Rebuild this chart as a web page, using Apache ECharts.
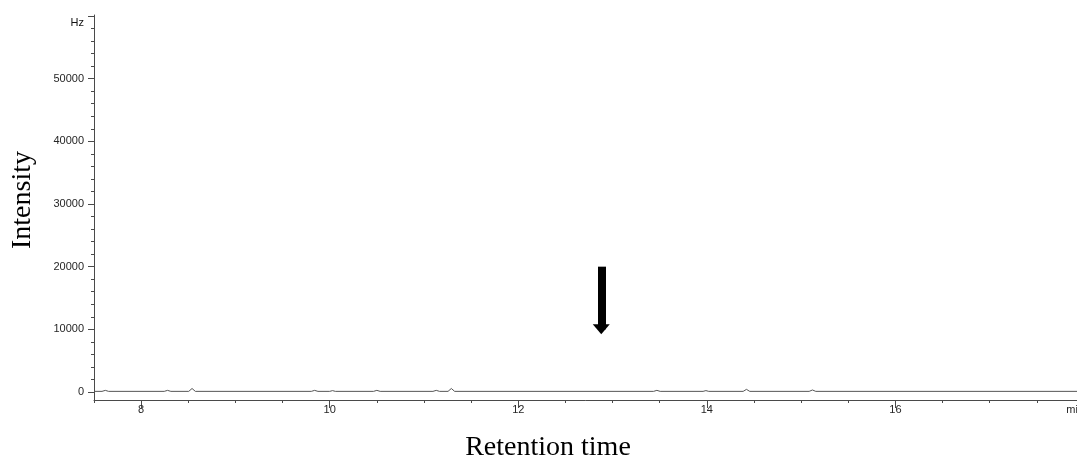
<!DOCTYPE html>
<html>
<head>
<meta charset="utf-8">
<script src="https://cdn.jsdelivr.net/npm/echarts@6/dist/echarts.min.js"></script>
<style>
html,body{margin:0;padding:0;background:#fff;}
#chart{width:1077px;height:459px;}
</style>
</head>
<body>
<div id="chart"></div>
<script>
// Retention time (min) and detector intensity (Hz)
const times = [7.50, 7.585, 7.62, 7.655, 8.245, 8.28, 8.315, 8.505, 8.54, 8.575,
  9.805, 9.84, 9.875, 10.00, 10.03, 10.06, 10.465, 10.50, 10.535, 11.095, 11.13, 11.165,
  11.255, 11.29, 11.325, 13.435, 13.47, 13.505, 13.96, 13.99, 14.02, 14.385, 14.42, 14.455,
  15.085, 15.12, 15.155, 18.00];
const intensity = [100, 100, 260, 100, 100, 260, 100, 100, 560, 100,
  100, 260, 100, 100, 220, 100, 100, 260, 100, 100, 260, 100,
  100, 560, 100, 100, 260, 100, 100, 220, 100, 100, 420, 100,
  100, 320, 100, 100];
// x-axis tick categories (every 0.5 min)
const xTicks = ['7.5','8','8.5','9','9.5','10','10.5','11','11.5','12','12.5','13','13.5','14','14.5','15','15.5','16','16.5','17','17.5','18'];
// y-axis range / ticks
const yMin = 0, yMax = 60000, yMajor = 10000, yMinor = 2000;
// arrow annotation (time, from intensity, to intensity)
const arrowTime = 12.88, arrowFrom = 20000, arrowTo = 10000;

const points = times.map((t, i) => [t, intensity[i]]);
const axisColor = '#4a4a4a';
const labelFont = { fontFamily: 'Liberation Sans, Arial, sans-serif', fontSize: 11, color: '#262626' };
const titleFont = '28px "Liberation Serif", "Times New Roman", serif';

const chart = echarts.init(document.getElementById('chart'), null, { renderer: 'canvas' });
chart.setOption({
  backgroundColor: '#fff',
  animation: false,
  grid: [
    { left: 94, right: -7, top: 16, bottom: 67, containLabel: false, outerBoundsMode: 'none' },
    { left: 94, right: -7, top: 15, bottom: 59, containLabel: false, outerBoundsMode: 'none' }
  ],
  xAxis: [
    { type: 'value', gridIndex: 0, min: 7.5, max: 18, show: false },
    { type: 'category', gridIndex: 1, data: xTicks, boundaryGap: false, position: 'bottom',
      axisLine: { show: true, onZero: false, lineStyle: { color: axisColor, width: 1 } },
      axisTick: { show: true, interval: 0, length: 3, lineStyle: { color: axisColor } },
      axisLabel: Object.assign({ interval: (i) => i === xTicks.length - 1, align: 'right', margin: 4,
        formatter: () => 'min' }, labelFont),
      splitLine: { show: false } },
    { type: 'category', gridIndex: 1, data: xTicks, boundaryGap: false, position: 'bottom',
      axisLine: { show: false, onZero: false },
      axisTick: { show: true, interval: (i) => i % 4 === 1 && i < xTicks.length - 1, length: 8, lineStyle: { color: axisColor } },
      axisLabel: Object.assign({ interval: (i) => i % 4 === 1 && i < xTicks.length - 1, margin: 4 }, labelFont),
      splitLine: { show: false } }
  ],
  yAxis: [
    { type: 'value', gridIndex: 0, min: yMin, max: yMax, interval: yMajor, position: 'left',
      axisLine: { show: false, onZero: false },
      axisTick: { show: true, length: 6, lineStyle: { color: axisColor } },
      axisLabel: Object.assign({ margin: 10,
        formatter: (v) => v === yMax ? '{hz|Hz}' : String(v),
        rich: { hz: { padding: [14, 0, 0, 0], fontFamily: 'Liberation Sans, Arial, sans-serif', fontSize: 11, color: '#111' } }
      }, labelFont),
      splitLine: { show: false } },
    { type: 'value', gridIndex: 0, min: yMin, max: yMax, interval: yMinor, position: 'left',
      axisLine: { show: false, onZero: false },
      axisTick: { show: true, length: 3, lineStyle: { color: axisColor } },
      axisLabel: { show: false },
      splitLine: { show: false } },
    { type: 'value', gridIndex: 1, min: 0, max: 1, position: 'left',
      axisLine: { show: true, onZero: false, lineStyle: { color: axisColor, width: 1 } },
      axisTick: { show: false }, axisLabel: { show: false }, splitLine: { show: false } }
  ],
  series: [{
    type: 'line',
    xAxisIndex: 0, yAxisIndex: 0,
    data: points,
    showSymbol: false,
    symbol: 'none',
    lineStyle: { color: '#555', width: 1 },
    clip: false,
    silent: true,
    markLine: {
      silent: true,
      symbol: ['none', 'triangle'],
      symbolSize: [17, 10],
      label: { show: false },
      lineStyle: { color: '#000', width: 8, type: 'solid' },
      itemStyle: { color: '#000' },
      data: [[{ coord: [arrowTime, arrowFrom] }, { coord: [arrowTime, arrowTo] }]]
    }
  }],
  graphic: [
    { type: 'text', x: 548, y: 448,
      style: { text: 'Retention time', font: titleFont, fill: '#000', textAlign: 'center', textVerticalAlign: 'middle' } },
    { type: 'text', x: 23, y: 200, rotation: Math.PI / 2,
      style: { text: 'Intensity', font: titleFont, fill: '#000', textAlign: 'center', textVerticalAlign: 'middle' } }
  ]
});
</script>
</body>
</html>
